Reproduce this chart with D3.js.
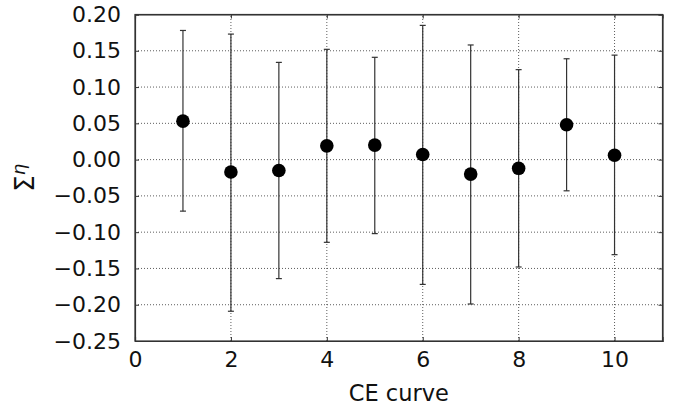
<!DOCTYPE html>
<html>
<head>
<meta charset="utf-8">
<script src="https://cdn.jsdelivr.net/npm/d3@7/dist/d3.min.js"></script>
<style>
  body { margin: 0; background: #fff; }
  text { font-family: "DejaVu Sans", sans-serif; }
</style>
</head>
<body>
<div id="chart"></div>
<script>
const curves = [1, 2, 3, 4, 5, 6, 7, 8, 9, 10];
const means  = [0.053, -0.017, -0.015, 0.019, 0.020, 0.007, -0.020, -0.012, 0.048, 0.006];
const upper  = [0.178, 0.173, 0.134, 0.152, 0.141, 0.185, 0.158, 0.124, 0.139, 0.144];
const lower  = [-0.071, -0.209, -0.164, -0.114, -0.102, -0.172, -0.199, -0.148, -0.043, -0.131];
const xTicks = [0, 2, 4, 6, 8, 10];
const yTicks = [-0.25, -0.20, -0.15, -0.10, -0.05, 0.00, 0.05, 0.10, 0.15, 0.20];

const width = 676, height = 410;
const margin = {top: 14.5, right: 13.5, bottom: 69, left: 135};

const svg = d3.select("#chart").append("svg")
  .attr("width", width)
  .attr("height", height);

const x = d3.scaleLinear().domain([0, 11]).range([margin.left, width - margin.right]);
const y = d3.scaleLinear().domain([-0.25, 0.20]).range([height - margin.bottom, margin.top]);

const data = curves.map((c, i) => ({c, m: means[i], hi: upper[i], lo: lower[i]}));

// grid
const grid = svg.append("g")
  .attr("stroke", "#333")
  .attr("stroke-width", 0.8)
  .attr("stroke-dasharray", "1,2");

grid.selectAll("line.gy")
  .data(yTicks.slice(1, -1))
  .join("line")
    .attr("x1", x(0)).attr("x2", x(11))
    .attr("y1", d => y(d)).attr("y2", d => y(d));

grid.selectAll("line.gx")
  .data(xTicks.slice(1))
  .join("line")
    .attr("x1", d => x(d)).attr("x2", d => x(d))
    .attr("y1", y(-0.25)).attr("y2", y(0.20));

// error bars
const err = svg.append("g")
  .attr("stroke", "#333")
  .attr("stroke-width", 1.2);

err.selectAll("line.bar")
  .data(data)
  .join("line")
    .attr("x1", d => x(d.c)).attr("x2", d => x(d.c))
    .attr("y1", d => y(d.hi)).attr("y2", d => y(d.lo));

err.selectAll("line.cap")
  .data(data.flatMap(d => [{c: d.c, v: d.hi}, {c: d.c, v: d.lo}]))
  .join("line")
    .attr("x1", d => x(d.c) - 3).attr("x2", d => x(d.c) + 3)
    .attr("y1", d => y(d.v)).attr("y2", d => y(d.v));

// points
svg.append("g").selectAll("circle")
  .data(data)
  .join("circle")
    .attr("cx", d => x(d.c))
    .attr("cy", d => y(d.m))
    .attr("r", 6.8)
    .attr("fill", "#000");

// axes
const fmtY = d3.format(".2f");

svg.append("g")
  .attr("transform", `translate(0,${y(-0.25)})`)
  .call(d3.axisBottom(x).tickValues(xTicks).tickSize(-4).tickPadding(10).tickFormat(d3.format("d")));

svg.append("g")
  .attr("transform", `translate(${x(0)},0)`)
  .call(d3.axisLeft(y).tickValues(yTicks).tickSize(-4).tickPadding(14).tickFormat(fmtY));

svg.append("g")
  .attr("transform", `translate(0,${y(0.20)})`)
  .call(d3.axisTop(x).tickValues(xTicks).tickSize(-4).tickFormat(""));

svg.append("g")
  .attr("transform", `translate(${x(11)},0)`)
  .call(d3.axisRight(y).tickValues(yTicks).tickSize(-4).tickFormat(""));

svg.selectAll(".domain").attr("stroke", "#333").attr("stroke-width", 1.2);
svg.selectAll(".tick line").attr("stroke", "#333");
svg.selectAll(".tick text")
  .attr("font-size", 22)
  .attr("font-family", "DejaVu Sans")
  .attr("fill", "#111");

// frame
svg.append("rect")
  .attr("x", x(0)).attr("y", y(0.20))
  .attr("width", x(11) - x(0)).attr("height", y(-0.25) - y(0.20))
  .attr("fill", "none")
  .attr("stroke", "#333")
  .attr("stroke-width", 1.2);

// labels
svg.append("text")
  .attr("x", (x(0) + x(11)) / 2)
  .attr("y", 401)
  .attr("text-anchor", "middle")
  .attr("font-size", 22.5)
  .attr("fill", "#111")
  .text("CE curve");

const yl = svg.append("text")
  .attr("transform", `translate(34,${(y(0.20) + y(-0.25)) / 2}) rotate(-90)`)
  .attr("text-anchor", "middle")
  .attr("font-size", 26)
  .attr("fill", "#111");
yl.append("tspan").text("\u03A3");
yl.append("tspan")
  .attr("font-size", 18)
  .attr("font-style", "italic")
  .attr("dy", -9)
  .text("\u03B7");
</script>
</body>
</html>
